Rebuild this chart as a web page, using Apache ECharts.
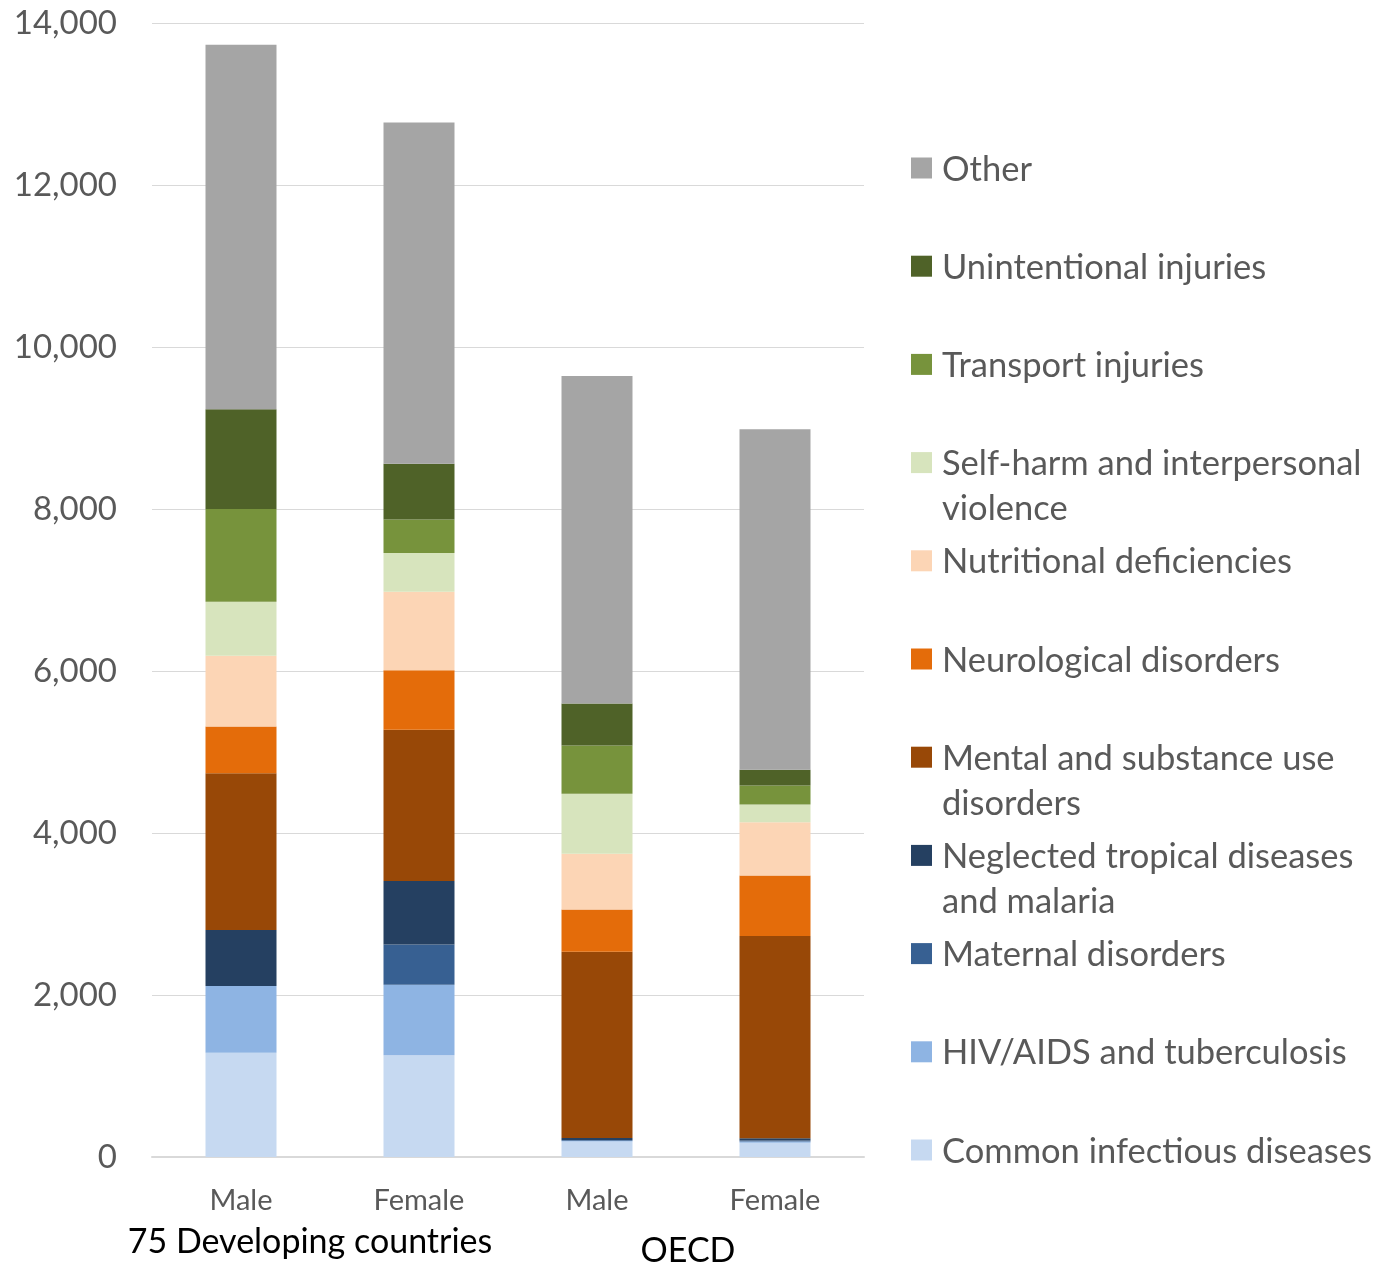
<!DOCTYPE html>
<html>
<head>
<meta charset="utf-8">
<script src="https://cdn.jsdelivr.net/npm/echarts@6/dist/echarts.min.js"></script>
<style>
html,body{margin:0;padding:0;background:#fff;}
#c{width:1377px;height:1264px;}
</style>
</head>
<body>
<div id="c"></div>
<script>
// Categories (bottom axis) and group labels
const categories = ['Male', 'Female', 'Male', 'Female'];
const groupLabels = ['75 Developing countries', 'OECD'];
const yTicks = [0, 2000, 4000, 6000, 8000, 10000, 12000, 14000];

// Series values (DALYs per 100,000), stacked bottom to top
const commonInfectious = [1288, 1255, 190, 175];
const hivTb = [822, 872, 10, 15];
const maternal = [0, 498, 10, 15];
const ntdMalaria = [691, 781, 24, 25];
const mentalSubstance = [1937, 1868, 2301, 2497];
const neurological = [577, 736, 522, 749];
const nutritional = [872, 967, 687, 658];
const selfHarm = [667, 481, 740, 218];
const transport = [1146, 411, 596, 235];
const unintentional = [1230, 691, 519, 193];
const other = [4501, 4212, 4044, 4205];

const seriesNames = ['Common infectious diseases', 'HIV/AIDS and tuberculosis', 'Maternal disorders',
  'Neglected tropical diseases and malaria', 'Mental and substance use disorders', 'Neurological disorders',
  'Nutritional deficiencies', 'Self-harm and interpersonal violence', 'Transport injuries',
  'Unintentional injuries', 'Other'];
const legendLabels = ['Common infectious diseases', 'HIV/AIDS and tuberculosis', 'Maternal disorders',
  'Neglected tropical diseases\nand malaria', 'Mental and substance use\ndisorders', 'Neurological disorders',
  'Nutritional deficiencies', 'Self-harm and interpersonal\nviolence', 'Transport injuries',
  'Unintentional injuries', 'Other'];
const seriesData = [commonInfectious, hivTb, maternal, ntdMalaria, mentalSubstance, neurological,
  nutritional, selfHarm, transport, unintentional, other];
const colors = ['#C6D9F1', '#8EB4E3', '#376092', '#254061', '#984807', '#E46C0A',
  '#FCD5B5', '#D7E4BD', '#77933C', '#4F6228', '#A5A5A5'];

const FONT = 'Lato';
const chart = echarts.init(document.getElementById('c'), null, {renderer: 'canvas'});

const series = seriesNames.map((n, i) => ({
  name: n,
  type: 'bar',
  stack: 'total',
  data: seriesData[i],
  barWidth: 71,
  itemStyle: {color: colors[i]},
  emphasis: {disabled: true}
}));

// Custom legend (top item = last series)
const legendGraphics = [];
const n = seriesNames.length;
for (let k = 0; k < n; k++) {
  const i = n - 1 - k;
  const cy = 168 + k * 98.2;
  legendGraphics.push({
    type: 'rect', left: 911, top: cy - 10.5,
    shape: {width: 21, height: 21}, style: {fill: colors[i]}
  });
  legendGraphics.push({
    type: 'text', left: 942, top: cy - 21,
    style: {text: legendLabels[i], font: '34.5px ' + FONT, fill: '#595959', lineHeight: 45, textVerticalAlign: 'top'}
  });
}

chart.setOption({
  animation: false,
  backgroundColor: '#ffffff',
  textStyle: {fontFamily: FONT},
  grid: {left: 152, right: 513, top: 23, bottom: 107, containLabel: false},
  xAxis: {
    type: 'category',
    data: categories,
    axisLine: {lineStyle: {color: '#D9D9D9', width: 2}},
    axisTick: {show: false},
    axisLabel: {color: '#595959', fontSize: 29, fontFamily: FONT, margin: 29}
  },
  yAxis: {
    type: 'value',
    min: yTicks[0], max: yTicks[yTicks.length - 1], interval: yTicks[1] - yTicks[0],
    axisLine: {show: false},
    axisTick: {show: false},
    splitLine: {lineStyle: {color: '#D9D9D9', width: 1}},
    axisLabel: {color: '#595959', fontSize: 33, fontFamily: FONT, margin: 35,
      formatter: v => v.toLocaleString('en-US')}
  },
  series: series,
  graphic: legendGraphics.concat([
    {type: 'text', x: 310, y: 1242, style: {text: groupLabels[0], font: '34px ' + FONT, fill: '#000000', textAlign: 'center', textVerticalAlign: 'middle'}},
    {type: 'text', x: 688, y: 1251, style: {text: groupLabels[1], font: '34px ' + FONT, fill: '#000000', textAlign: 'center', textVerticalAlign: 'middle'}}
  ])
});
</script>
</body>
</html>
